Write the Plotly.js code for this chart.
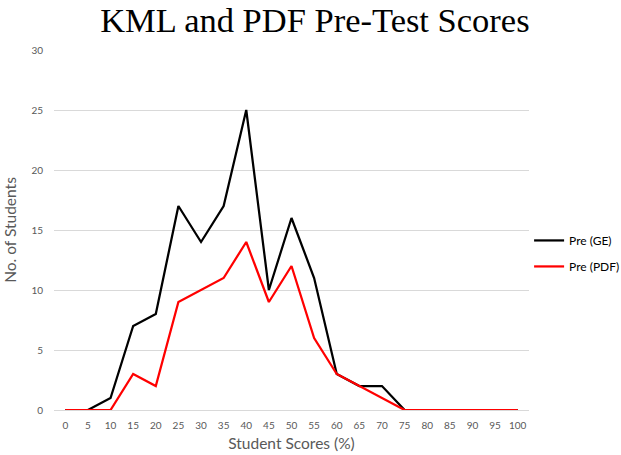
<!DOCTYPE html>
<html>
<head>
<meta charset="utf-8">
<script src="https://cdn.plot.ly/plotly-3.0.1.min.js"></script>
<style>html,body{margin:0;padding:0;background:#fff;}#chart{width:621px;height:455px;}</style>
</head>
<body>
<div id="chart"></div>
<script>
var scores = ["0","5","10","15","20","25","30","35","40","45","50","55","60","65","70","75","80","85","90","95","100"];
var preGE  = [0,0,1,7,8,17,14,17,25,10,16,11,3,2,2,0,0,0,0,0,0];
var prePDF = [0,0,0,3,2,9,10,11,14,9,12,6,3,2,1,0,0,0,0,0,0];
var yTicks = [0,5,10,15,20,25,30];

var data = [
  {x: scores, y: preGE, type: 'scatter', mode: 'lines', name: 'Pre (GE)', legendgroup: 'g1', line: {color: '#000000', width: 2.25}},
  {x: scores, y: prePDF, type: 'scatter', mode: 'lines', name: 'Pre (PDF)', legendgroup: 'g2', line: {color: '#ff0000', width: 2.25}}
];
var layout = {
  width: 621, height: 455,
  margin: {l: 54, r: 92, t: 50, b: 45},
  paper_bgcolor: '#ffffff', plot_bgcolor: '#ffffff',
  font: {family: 'Lato, "Open Sans", sans-serif', color: '#595959'},
  title: {text: 'KML and PDF Pre-Test Scores', font: {family: '"Liberation Serif", serif', size: 34.5, color: '#000000'}, x: 0.507, xref: 'container', xanchor: 'center', y: 0.957, yref: 'container', yanchor: 'middle'},
  xaxis: {type: 'category', range: [-0.5, 20.5], showgrid: false, showline: true, linecolor: '#d9d9d9', linewidth: 1, ticks: '', ticklabelstandoff: 6, tickfont: {size: 10, color: '#595959'}, title: {text: 'Student Scores (%)', font: {size: 15.5, color: '#595959'}, standoff: 8}, zeroline: false, fixedrange: true},
  yaxis: {range: [0, 30], tickvals: yTicks, showgrid: true, gridcolor: '#d9d9d9', gridwidth: 1, zeroline: false, showline: false, ticks: '', ticklabelstandoff: 10, tickfont: {size: 10, color: '#595959'}, title: {text: 'No. of Students', font: {size: 15.5, color: '#595959'}, standoff: 10}, fixedrange: true},
  legend: {xref: 'container', x: 0.852, xanchor: 'left', yref: 'container', y: 0.443, yanchor: 'middle', font: {size: 12, color: '#000000'}, bgcolor: 'rgba(0,0,0,0)', itemwidth: 30, traceorder: 'grouped', tracegroupgap: 7},
  showlegend: true
};
Plotly.newPlot('chart', data, layout, {displayModeBar: false, staticPlot: true});
</script>
</body>
</html>
